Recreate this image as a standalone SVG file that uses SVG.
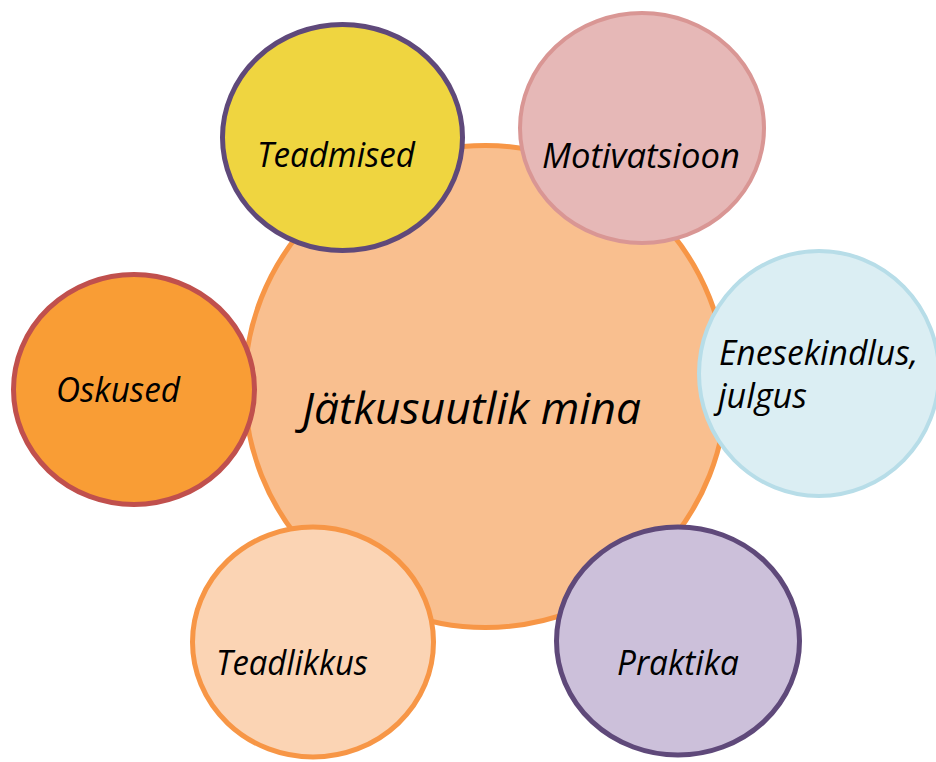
<svg xmlns="http://www.w3.org/2000/svg" width="936" height="762" viewBox="0 0 936 762">
<style>
.lbl{font-family:"Open Sans","Liberation Sans",sans-serif;font-style:italic;font-size:34px;fill:#000}
.big{font-size:43px}
</style>
<rect width="936" height="762" fill="#fff"/>
<g id="center">
<ellipse cx="485.5" cy="386.5" rx="241" ry="241" fill="#F9BF8F" stroke="#F79646" stroke-width="5"/>
<text class="lbl big" x="302" y="424" textLength="339" lengthAdjust="spacingAndGlyphs">Jätkusuutlik mina</text>
</g>
<g id="connectors"></g>
<g id="teadmised">
<ellipse cx="342.5" cy="137.5" rx="120" ry="113" fill="#EFD540" stroke="#5F497A" stroke-width="5"/>
<text class="lbl" x="257" y="167" textLength="158" lengthAdjust="spacingAndGlyphs">Teadmised</text>
</g>
<g id="motivatsioon">
<ellipse cx="642" cy="128" rx="122" ry="115" fill="#E6B8B7" stroke="#D99694" stroke-width="4"/>
<text class="lbl" x="542" y="168" textLength="198" lengthAdjust="spacingAndGlyphs">Motivatsioon</text>
</g>
<g id="enesekindlus">
<ellipse cx="819" cy="373.5" rx="120" ry="122.5" fill="#DBEEF3" stroke="#B7DDE8" stroke-width="4"/>
<text class="lbl" x="719" y="365" textLength="199" lengthAdjust="spacingAndGlyphs">Enesekindlus,</text>
<text class="lbl" x="718" y="408" textLength="89" lengthAdjust="spacingAndGlyphs">julgus</text>
</g>
<g id="oskused">
<ellipse cx="134" cy="389.5" rx="120.5" ry="115" fill="#F99D35" stroke="#C0504D" stroke-width="5"/>
<text class="lbl" x="56" y="402" textLength="124" lengthAdjust="spacingAndGlyphs">Oskused</text>
</g>
<g id="teadlikkus">
<ellipse cx="313" cy="642" rx="120.5" ry="115" fill="#FBD4B4" stroke="#F79646" stroke-width="5"/>
<text class="lbl" x="216" y="675" textLength="152" lengthAdjust="spacingAndGlyphs">Teadlikkus</text>
</g>
<g id="praktika">
<ellipse cx="678" cy="641" rx="121.5" ry="114" fill="#CCC0DA" stroke="#5F497A" stroke-width="5"/>
<text class="lbl" x="617" y="675" textLength="122" lengthAdjust="spacingAndGlyphs">Praktika</text>
</g>
</svg>
